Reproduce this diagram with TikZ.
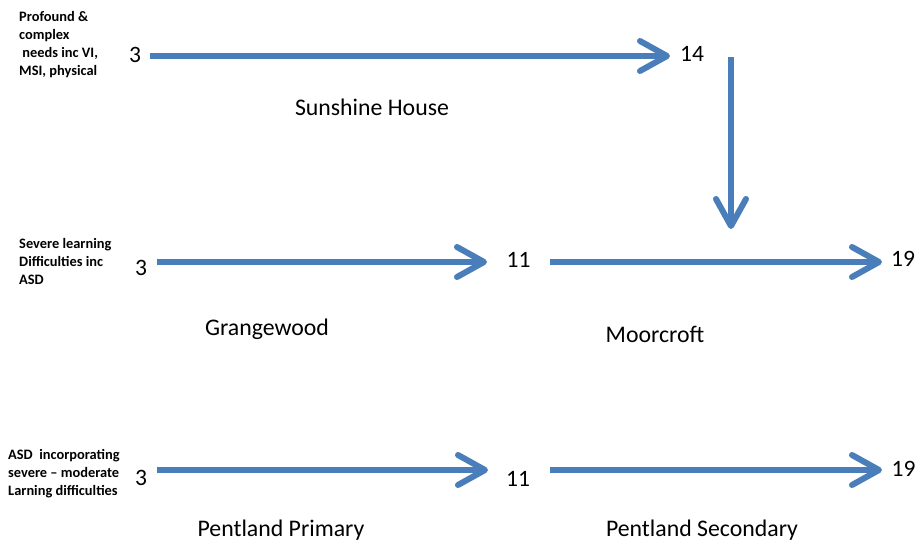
\documentclass[tikz,border=0pt]{standalone}
\usepackage{fontspec}
\setmainfont{Carlito}
\usetikzlibrary{arrows.meta}
\definecolor{arrblue}{RGB}{74,126,187}
\begin{document}
\begin{tikzpicture}[x=1pt,y=-1pt,
  arr/.style={draw=arrblue, line width=6pt, -{Straight Barb[length=27pt,width=30pt,round]}},
  num/.style={font=\fontsize{23.5}{28}\selectfont, inner sep=0pt, anchor=base},
  school/.style={font=\fontsize{23.8}{28}\selectfont, inner sep=0pt, anchor=base},
  lab/.style={font=\bfseries\fontsize{14.4}{18}\selectfont, align=left, inner sep=0pt, anchor=north west}]
\useasboundingbox (0,0) rectangle (919,544);
% left labels
\node[lab] (l1) at (19,11) {Profound \&\\complex\\\ needs inc VI,\\MSI, physical};
\node[lab] (l2) at (19,238) {Severe learning\\Difficulties inc\\ASD};
\node[lab] (l3) at (8,449) {ASD\ \ incorporating\\severe -- moderate\\Larning difficulties};
% numbers
\node[num] (r1a) at (135,62) {3};
\node[num] (r1b) at (692,61) {14};
\node[num] (r2a) at (141,275) {3};
\node[num] (r2b) at (518.5,267) {11};
\node[num] (r2c) at (903,266) {19};
\node[num] (r3a) at (141,485) {3};
\node[num] (r3b) at (518,486) {11};
\node[num] (r3c) at (903.5,476) {19};
% schools
\node[school] (s1) at (372,115) {Sunshine House};
\node[school] (s2) at (267,335) {Grangewood};
\node[school] (s3) at (655,342) {Moorcroft};
\node[school] (s4) at (281,536) {Pentland Primary};
\node[school] (s5) at (702,536) {Pentland Secondary};
% arrow ends
\coordinate (a1s) at (150,56);
\coordinate (a1e) at (670,56);
\coordinate (vs) at (731,57);
\coordinate (ve) at (731,229);
\coordinate (a2s) at (157,262);
\coordinate (a2e) at (487,262);
\coordinate (a3s) at (550,262);
\coordinate (a3e) at (882,262);
\coordinate (a4s) at (157,470);
\coordinate (a4e) at (488,470);
\coordinate (a5s) at (550,470);
\coordinate (a5e) at (882,470);
\draw[arr] (a1s) -- (a1e);
\draw[arr] (vs) -- (ve);
\draw[arr] (a2s) -- (a2e);
\draw[arr] (a3s) -- (a3e);
\draw[arr] (a4s) -- (a4e);
\draw[arr] (a5s) -- (a5e);
\end{tikzpicture}
\end{document}
